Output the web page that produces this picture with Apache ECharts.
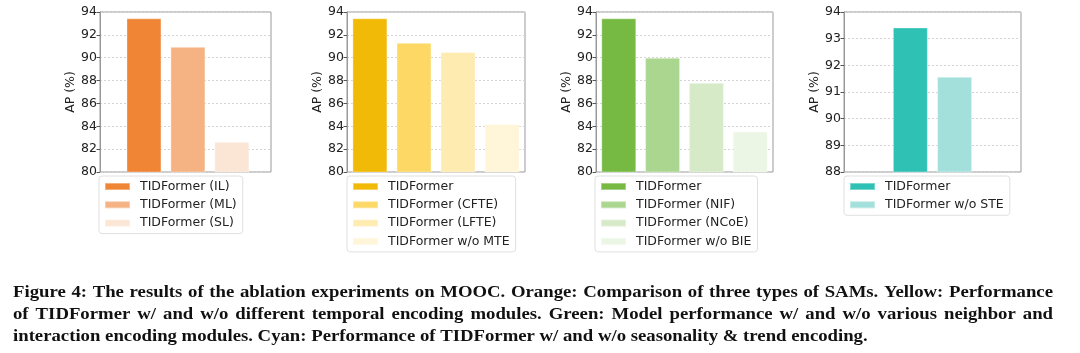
<!DOCTYPE html>
<html>
<head>
<meta charset="utf-8">
<title>TIDFormer ablation on MOOC</title>
<script src="https://cdn.jsdelivr.net/npm/echarts@6/dist/echarts.min.js"></script>
<style>
  html, body { margin: 0; padding: 0; background: #fff; }
  #chart { width: 1080px; height: 353px; }
</style>
</head>
<body>
<div id="chart"></div>
<script>
// values
const orangeNames = ['TIDFormer (IL)', 'TIDFormer (ML)', 'TIDFormer (SL)'];
const orangeValues = [93.45, 90.95, 82.65];
const yellowNames = ['TIDFormer', 'TIDFormer (CFTE)', 'TIDFormer (LFTE)', 'TIDFormer w/o MTE'];
const yellowValues = [93.45, 91.3, 90.5, 84.2];
const greenNames = ['TIDFormer', 'TIDFormer (NIF)', 'TIDFormer (NCoE)', 'TIDFormer w/o BIE'];
const greenValues = [93.45, 90.0, 87.8, 83.55];
const cyanNames = ['TIDFormer', 'TIDFormer w/o STE'];
const cyanValues = [93.42, 91.57];

// y ranges (min, max, step)
const yRangeMain = [80, 94, 2];
const yRangeCyan = [88, 94, 1];

const orangeColors = ['#ef8535', '#f5b282', '#fbe5d5'];
const yellowColors = ['#f1ba06', '#fdd865', '#feebb0', '#fff5d8'];
const greenColors = ['#76ba44', '#aad68f', '#d6eac8', '#ecf6e5'];
const cyanColors = ['#2fc1b4', '#a3dfdb'];

const captionLines = [
  'Figure 4: The results of the ablation experiments on MOOC. Orange: Comparison of three types of SAMs. Yellow: Performance',
  'of TIDFormer w/ and w/o different temporal encoding modules. Green: Model performance w/ and w/o various neighbor and',
  'interaction encoding modules. Cyan: Performance of TIDFormer w/ and w/o seasonality & trend encoding.'
];

const panels = [
  { names: orangeNames, values: orangeValues, colors: orangeColors, y: yRangeMain,
    left: 100, width: 171, xMin: -1, xMax: 2.89, nameGap: 15, legendLeft: 99 },
  { names: yellowNames, values: yellowValues, colors: yellowColors, y: yRangeMain,
    left: 347, width: 178, xMin: -0.52, xMax: 3.52, nameGap: 11, legendLeft: 347 },
  { names: greenNames, values: greenValues, colors: greenColors, y: yRangeMain,
    left: 596, width: 177, xMin: -0.52, xMax: 3.52, nameGap: 10.5, legendLeft: 595 },
  { names: cyanNames, values: cyanValues, colors: cyanColors, y: yRangeCyan,
    left: 844, width: 177, xMin: -1.5, xMax: 2.5, nameGap: 13, legendLeft: 844 }
];

const font = 'DejaVu Sans';
const fs = 12.5;
const grids = [], xAxes = [], yAxes = [], series = [], legends = [];

panels.forEach((p, i) => {
  grids.push({ left: p.left, top: 12, width: p.width, height: 160,
    show: true, borderColor: '#999', borderWidth: 1 });
  xAxes.push({ gridIndex: i, type: 'value', min: p.xMin, max: p.xMax, show: false });
  yAxes.push({
    gridIndex: i, type: 'value', min: p.y[0], max: p.y[1], interval: p.y[2],
    name: 'AP (%)', nameLocation: 'middle', nameGap: p.nameGap,
    nameTextStyle: { fontSize: fs, fontFamily: font, color: '#222' },
    axisLine: { show: true, onZero: false, lineStyle: { color: '#999' } },
    axisTick: { show: true, length: 3.5, lineStyle: { color: '#555' } },
    axisLabel: { fontSize: fs, fontFamily: font, color: '#222', margin: 3 },
    splitLine: { show: true, lineStyle: { color: '#d4d4d4', type: [2, 2] } }
  });
  const legendData = [];
  p.names.forEach((n, j) => {
    const key = n + '#' + i;
    legendData.push(key);
    series.push({
      type: 'bar', name: key, xAxisIndex: i, yAxisIndex: i,
      data: [[j, p.values[j]]],
      barWidth: 35, barGap: '-100%',
      itemStyle: { color: p.colors[j], borderColor: 'rgba(255,255,255,0.35)', borderWidth: 1 }
    });
  });
  legends.push({
    orient: 'vertical', left: p.legendLeft, top: 176,
    icon: 'rect', itemWidth: 25, itemHeight: 7, itemGap: 5.3,
    padding: [4, 6, 4, 5], borderColor: '#e0e0e0', borderWidth: 1, borderRadius: 3,
    selectedMode: false,
    textStyle: { fontSize: fs, fontFamily: font, color: '#222', padding: [0, 0, 0, 5] },
    formatter: name => name.split('#')[0],
    data: legendData
  });
});

// caption: first two lines are justified to the full width, last one is left aligned
const captionFont = 'bold 17px "Liberation Serif"';
const ctx = document.createElement('canvas').getContext('2d');
ctx.font = captionFont;
const captionLeft = 13, captionWidth = 1040;
const glyphScale = Math.min(895 / ctx.measureText(captionLines[2]).width,
                            1022 / ctx.measureText(captionLines[0]).width);
const spaceW = ctx.measureText(' ').width * glyphScale;
const captionY = [293, 315, 337];
const graphics = [];
captionLines.forEach((line, k) => {
  const words = line.split(' ');
  const widths = words.map(w => ctx.measureText(w).width * glyphScale);
  const total = widths.reduce((a, b) => a + b, 0);
  const justify = k < captionLines.length - 1;
  const gap = justify ? (captionWidth - total) / (words.length - 1) : spaceW;
  let x = captionLeft;
  words.forEach((w, m) => {
    graphics.push({
      type: 'text', x: x, y: captionY[k], scaleX: glyphScale, silent: true,
      style: { text: w, font: captionFont, fill: '#111', verticalAlign: 'middle' }
    });
    x += widths[m] + gap;
  });
});

const chart = echarts.init(document.getElementById('chart'));
chart.setOption({
  animation: false,
  grid: grids, xAxis: xAxes, yAxis: yAxes,
  legend: legends, series: series,
  graphic: graphics
});
</script>
</body>
</html>
